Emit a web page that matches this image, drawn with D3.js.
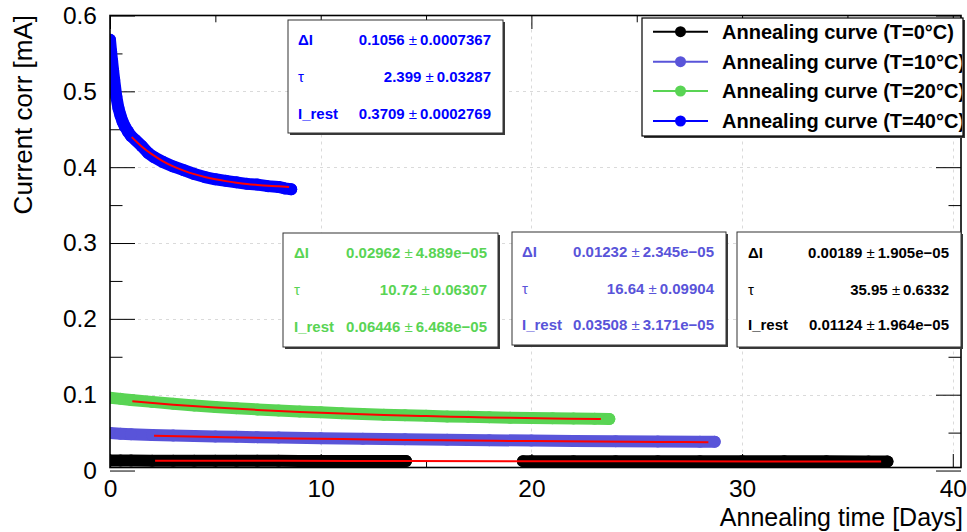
<!DOCTYPE html>
<html><head><meta charset="utf-8">
<script src="https://cdn.jsdelivr.net/npm/d3@7"></script>
<style>body{margin:0;background:#fff;overflow:hidden}</style>
</head><body><svg id="c" width="967" height="532"></svg>
<script>
// ---------------- data ----------------
const xTickValues = [0, 10, 20, 30, 40];
const xTickLabels = ["0", "10", "20", "30", "40"];
const xMinorValues = [5, 15, 25, 35];
const yTickValues = [0, 0.1, 0.2, 0.3, 0.4, 0.5, 0.6];
const yTickLabels = ["0", "0.1", "0.2", "0.3", "0.4", "0.5", "0.6"];
const yMinorValues = [0.05, 0.15, 0.25, 0.35, 0.45, 0.55];

const seriesNames = ["Annealing curve (T=0\u00B0C)", "Annealing curve (T=10\u00B0C)", "Annealing curve (T=20\u00B0C)", "Annealing curve (T=40\u00B0C)"];
const seriesColors = ["#000000", "#5954d9", "#59d454", "#0000ff"];

// T = 0 C (two measurement periods)
const t0 = [0, 0.5, 1, 2, 3, 4, 5, 6, 7, 8, 9, 10, 11, 12, 13, 14.05,
            19.6, 20, 22, 24, 26, 28, 30, 32, 34, 36, 36.9];
const i0 = [0.0132, 0.0131, 0.0131, 0.0130, 0.0130, 0.0129, 0.0129, 0.0128, 0.0128, 0.0128, 0.0127, 0.0127, 0.0127, 0.0126, 0.0126, 0.0126,
            0.0124, 0.0124, 0.0124, 0.0123, 0.0123, 0.0122, 0.0122, 0.0121, 0.0121, 0.0120, 0.0120];
// T = 10 C
const t10 = [0, 0.5, 1, 2, 3, 4, 5, 6, 7, 8, 10, 12, 14, 16, 18, 20, 22, 24, 26, 28, 28.7];
const i10 = [0.0495, 0.0485, 0.0478, 0.0470, 0.0463, 0.0456, 0.0450, 0.0445, 0.0440, 0.0435, 0.0427, 0.0419, 0.0412, 0.0406, 0.0400, 0.0395, 0.0391, 0.0387, 0.0384, 0.0381, 0.0380];
// T = 20 C
const t20 = [0, 0.5, 1, 2, 3, 4, 5, 6, 7, 8, 9, 10, 11, 12, 13, 14, 15, 16, 17, 18, 19, 20, 21, 22, 23, 23.7];
const i20 = [0.0960, 0.0945, 0.0930, 0.0905, 0.0880, 0.0858, 0.0838, 0.0821, 0.0806, 0.0792, 0.0779, 0.0767, 0.0756, 0.0746, 0.0737, 0.0729, 0.0721, 0.0714, 0.0708, 0.0702, 0.0697, 0.0693, 0.0689, 0.0686, 0.0683, 0.0681];
// T = 40 C
const t40 = [0, 0.05, 0.1, 0.15, 0.2, 0.3, 0.4, 0.5, 0.6, 0.7, 0.85, 1.0, 1.2, 1.5, 1.8, 2.1, 2.5, 3.0, 3.5, 4.0, 4.5, 5.0, 5.5, 6.0, 6.5, 7.0, 7.5, 8.0, 8.3, 8.6];
const i40 = [0.568, 0.553, 0.540, 0.527, 0.515, 0.493, 0.478, 0.468, 0.460, 0.454, 0.447, 0.441, 0.436, 0.428, 0.419, 0.413, 0.407, 0.401, 0.396, 0.391, 0.387, 0.384, 0.382, 0.380, 0.378, 0.377, 0.375, 0.374, 0.372, 0.371];

// fitted curves (red)
const fitT0 = [2.14, 8, 14, 20, 26, 32, 36.6];
const fitI0 = [0.01302, 0.01275, 0.01252, 0.01232, 0.01216, 0.01202, 0.01192];
const fitT10 = [2.09, 5, 8, 11, 14, 17, 20, 23, 26, 28.4];
const fitI10 = [0.04595, 0.04420, 0.04270, 0.04144, 0.04039, 0.03952, 0.03878, 0.03817, 0.03766, 0.03732];
const fitT20 = [1.06, 3, 5, 7, 9, 11, 13, 15, 17, 19, 21, 23.3];
const fitI20 = [0.09129, 0.08685, 0.08304, 0.07988, 0.07725, 0.07508, 0.07327, 0.07177, 0.07053, 0.06950, 0.06864, 0.06783];
const fitT40 = [1.03, 1.5, 2, 2.5, 3, 3.5, 4, 4.5, 5, 5.5, 6, 6.5, 7, 7.5, 8, 8.5];
const fitI40 = [0.4397, 0.4274, 0.4168, 0.4081, 0.4011, 0.3955, 0.3908, 0.3871, 0.3840, 0.3816, 0.3796, 0.3779, 0.3766, 0.3755, 0.3747, 0.3740];

// fit parameter boxes
const parNames = ["\u0394I", "\u03C4", "I_rest"];
const par0  = [["0.00189", "1.905e\u221205"], ["35.95", "0.6332"], ["0.01124", "1.964e\u221205"]];
const par10 = [["0.01232", "2.345e\u221205"], ["16.64", "0.09904"], ["0.03508", "3.171e\u221205"]];
const par20 = [["0.02962", "4.889e\u221205"], ["10.72", "0.06307"], ["0.06446", "6.468e\u221205"]];
const par40 = [["0.1056", "0.0007367"], ["2.399", "0.03287"], ["0.3709", "0.0002769"]];

const xTitle = "Annealing time [Days]";
const yTitle = "Current corr [mA]";

// ---------------- drawing ----------------
const svg = d3.select("#c");
const FONT = "'Liberation Sans', Arial, Helvetica, sans-serif";
const L = 110, R = 961, T = 15.5, B = 467.5;
const x = d3.scaleLinear().domain([0, 40.39]).range([L, R]);
const y = d3.scaleLinear().domain([0.004, 0.6]).range([B, T]);

svg.append("rect").attr("width", 967).attr("height", 532).attr("fill", "#fff");

// grid
const grid = svg.append("g").attr("stroke", "#dadada").attr("stroke-dasharray", "3,4").attr("stroke-width", 1);
grid.selectAll("line.gx").data(xTickValues.filter(v => v > 0)).join("line")
  .attr("x1", d => Math.round(x(d)) + 0.5).attr("x2", d => Math.round(x(d)) + 0.5)
  .attr("y1", T).attr("y2", B);
grid.selectAll("line.gy").data(yTickValues.filter(v => v > 0 && v < 0.6)).join("line")
  .attr("y1", d => Math.round(y(d)) + 0.5).attr("y2", d => Math.round(y(d)) + 0.5)
  .attr("x1", L).attr("x2", R);

// axes
function styleAxis(g) {
  g.select(".domain").remove();
  g.selectAll(".tick line").attr("stroke", "#000");
  g.selectAll("text").attr("font-family", FONT).attr("font-size", 24.5).attr("fill", "#000");
}
svg.append("g").attr("transform", `translate(${L},0)`)
  .call(d3.axisLeft(y).tickValues(yTickValues).tickFormat((d, i) => yTickLabels[i]).tickSizeInner(-25).tickSizeOuter(0).tickPadding(13))
  .call(styleAxis);
svg.append("g").attr("transform", `translate(${L},0)`)
  .call(d3.axisLeft(y).tickValues(yMinorValues).tickFormat("").tickSizeInner(-12.5).tickSizeOuter(0))
  .call(styleAxis);
svg.append("g").attr("transform", `translate(${R},0)`)
  .call(d3.axisRight(y).tickValues(yTickValues).tickFormat("").tickSizeInner(-25).tickSizeOuter(0))
  .call(styleAxis);
svg.append("g").attr("transform", `translate(${R},0)`)
  .call(d3.axisRight(y).tickValues(yMinorValues).tickFormat("").tickSizeInner(-12.5).tickSizeOuter(0))
  .call(styleAxis);
svg.append("g").attr("transform", `translate(0,${B})`)
  .call(d3.axisBottom(x).tickValues(xTickValues).tickFormat((d, i) => xTickLabels[i]).tickSizeInner(-13.5).tickSizeOuter(0).tickPadding(12.5))
  .call(styleAxis);
svg.append("g").attr("transform", `translate(0,${B})`)
  .call(d3.axisBottom(x).tickValues(xMinorValues).tickFormat("").tickSizeInner(-6.8).tickSizeOuter(0))
  .call(styleAxis);
svg.append("g").attr("transform", `translate(0,${T})`)
  .call(d3.axisTop(x).tickValues(xTickValues).tickFormat("").tickSizeInner(-13.5).tickSizeOuter(0))
  .call(styleAxis);
svg.append("g").attr("transform", `translate(0,${T})`)
  .call(d3.axisTop(x).tickValues(xMinorValues).tickFormat("").tickSizeInner(-6.8).tickSizeOuter(0))
  .call(styleAxis);

// clip
svg.append("clipPath").attr("id", "fr").append("rect").attr("x", L).attr("y", T).attr("width", R - L).attr("height", B - T);
const plot = svg.append("g").attr("clip-path", "url(#fr)");

const line = d3.line().x(d => x(d[0])).y(d => y(d[1]));
const smooth = d3.line().x(d => x(d[0])).y(d => y(d[1])).curve(d3.curveMonotoneX);

function drawSeries(ts, vs, color) {
  const pts = ts.map((t, i) => [t, vs[i]]);
  // split into segments where the measurement has a gap
  const segs = [];
  let cur = [];
  pts.forEach((p, i) => {
    if (i > 0 && p[0] - pts[i - 1][0] > 3) { segs.push(cur); cur = []; }
    cur.push(p);
  });
  segs.push(cur);
  const g = plot.append("g");
  segs.forEach(s => {
    g.append("path").attr("d", line(s)).attr("fill", "none").attr("stroke", color)
      .attr("stroke-width", 12).attr("stroke-linecap", "round").attr("stroke-linejoin", "round");
  });
  g.selectAll("circle").data(pts).join("circle")
    .attr("cx", d => x(d[0])).attr("cy", d => y(d[1])).attr("r", 6).attr("fill", color);
}
function drawFit(ts, vs) {
  const pts = ts.map((t, i) => [t, vs[i]]);
  plot.append("path").attr("d", smooth(pts)).attr("fill", "none").attr("stroke", "#ff0000").attr("stroke-width", 2);
}
drawSeries(t0, i0, seriesColors[0]);  drawFit(fitT0, fitI0);
drawSeries(t10, i10, seriesColors[1]); drawFit(fitT10, fitI10);
drawSeries(t20, i20, seriesColors[2]); drawFit(fitT20, fitI20);
drawSeries(t40, i40, seriesColors[3]); drawFit(fitT40, fitI40);

// frame
svg.append("rect").attr("x", L).attr("y", T).attr("width", R - L).attr("height", B - T)
  .attr("fill", "none").attr("stroke", "#000").attr("stroke-width", 1.6);

// stat boxes
function statBox(x0, y0, w, h, rows, labelX, valueRight, pars, color) {
  const g = svg.append("g");
  g.append("rect").attr("x", x0 + 2).attr("y", y0 + 2).attr("width", w).attr("height", h).attr("fill", "#3a3a3a");
  g.append("rect").attr("x", x0).attr("y", y0).attr("width", w).attr("height", h).attr("fill", "#fff").attr("stroke", "#333").attr("stroke-width", 1);
  pars.forEach((p, i) => {
    g.append("text").attr("x", labelX).attr("y", rows[i]).attr("dy", "0.35em")
      .attr("font-family", FONT).attr("font-size", 15).attr("fill", color)
      .attr("font-weight", i === 1 ? "normal" : "bold").text(parNames[i]);
    const t = g.append("text").attr("x", valueRight).attr("y", rows[i]).attr("dy", "0.35em")
      .attr("text-anchor", "end").attr("font-family", FONT).attr("font-size", 15).attr("fill", color);
    t.append("tspan").attr("font-weight", "bold").text(p[0] + " ");
    t.append("tspan").attr("font-weight", "normal").text("\u00B1");
    t.append("tspan").attr("font-weight", "bold").text("\u2009" + p[1]);
  });
}
statBox(288, 20, 215, 113, [39.5, 77, 114], 298, 491, par40, seriesColors[3]);
statBox(283, 233, 215, 114, [252.7, 290, 326.7], 294, 487, par20, seriesColors[2]);
statBox(512, 232, 214, 113, [251.7, 288.3, 325], 522, 714, par10, seriesColors[1]);
statBox(737, 232, 224, 115, [253, 290, 325], 748, 949, par0, seriesColors[0]);

// legend
const lg = svg.append("g");
lg.append("rect").attr("x", 644).attr("y", 20).attr("width", 321).attr("height", 118).attr("fill", "#3a3a3a");
lg.append("rect").attr("x", 642).attr("y", 18).attr("width", 321).attr("height", 118).attr("fill", "#fff").attr("stroke", "#000").attr("stroke-width", 1.2);
const legRows = [31.7, 61.7, 91, 121];
svg.append("clipPath").attr("id", "lgc").append("rect").attr("x", 642).attr("y", 18).attr("width", 320).attr("height", 118);
const lgi = lg.append("g").attr("clip-path", "url(#lgc)");
seriesNames.forEach((n, i) => {
  lgi.append("line").attr("x1", 653).attr("x2", 708).attr("y1", legRows[i]).attr("y2", legRows[i]).attr("stroke", seriesColors[i]).attr("stroke-width", 2);
  lgi.append("circle").attr("cx", 680.5).attr("cy", legRows[i]).attr("r", 5.5).attr("fill", seriesColors[i]);
  lgi.append("text").attr("x", 722).attr("y", legRows[i]).attr("dy", "0.35em").attr("font-family", FONT)
    .attr("font-size", 20).attr("font-weight", "bold").attr("fill", "#000").text(n);
});

// titles
svg.append("text").attr("x", 963).attr("y", 525.5).attr("text-anchor", "end")
  .attr("font-family", FONT).attr("font-size", 25).text(xTitle);
svg.append("text").attr("transform", "translate(32,15) rotate(-90)").attr("text-anchor", "end")
  .attr("font-family", FONT).attr("font-size", 26).text(yTitle);
</script>
</body></html>
